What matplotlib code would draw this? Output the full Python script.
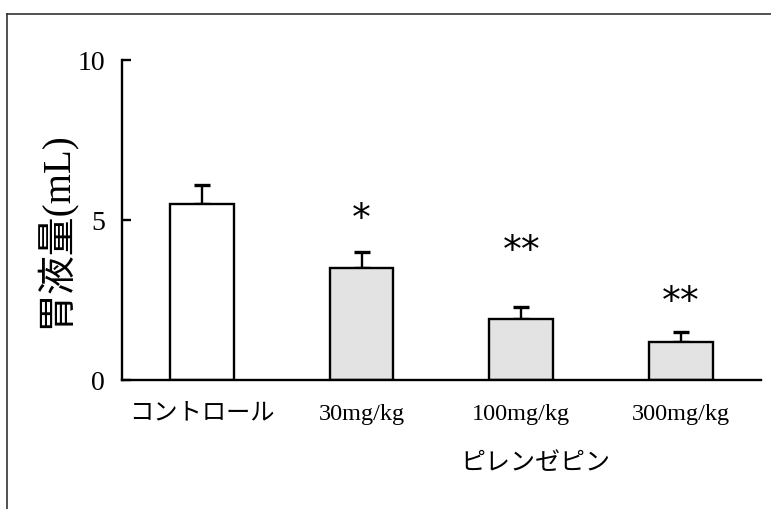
import matplotlib.pyplot as plt
from matplotlib.lines import Line2D

plt.rcParams['font.family'] = ['Liberation Serif', 'Noto Sans CJK JP']

# gastric juice volume per group
groups = ["コントロール", "30mg/kg", "100mg/kg", "300mg/kg"]
volume = [5.5, 3.5, 1.9, 1.2]
sem = [0.6, 0.5, 0.4, 0.3]
fills = ["white", "#e3e3e3", "#e3e3e3", "#e3e3e3"]
marks = ["", "*", "**", "**"]
mark_y = [0, 5.02, 4.02, 2.42]

fig = plt.figure(figsize=(7.71, 5.09), dpi=100)
ax = fig.add_axes([0.158, 0.253, 0.829, 0.629])

x = range(len(groups))
ax.bar(x, volume, width=0.4, color=fills, edgecolor="black", linewidth=1.7, zorder=2)
ax.errorbar(x, volume, yerr=[[0] * len(sem), sem], fmt="none", ecolor="black",
            elinewidth=1.7, capsize=5.8, capthick=2.4, zorder=1)

for i, m in enumerate(marks):
    if m:
        ax.text(i, mark_y[i], m, ha="center", va="center", fontsize=27,
                family="DejaVu Sans", color="black")

ax.set_xlim(-0.5, 3.5)
ax.set_ylim(0, 10)
ax.set_yticks([0, 5, 10])
ax.tick_params(axis="y", direction="in", length=6.5, width=1.7, labelsize=20, pad=12)
ax.set_xticks(list(x))
ax.set_xticklabels(groups, fontsize=17.5)
ax.tick_params(axis="x", length=0, pad=17)

for side in ["top", "right"]:
    ax.spines[side].set_visible(False)
for side in ["left", "bottom"]:
    ax.spines[side].set_linewidth(1.7)

ax.set_ylabel("胃液量(mL)", fontsize=28)
ax.yaxis.set_label_coords(-0.074, 0.47)

ax.annotate("ピレンゼピン", xy=(2.09, -0.262), xycoords=("data", "axes fraction"),
            ha="center", va="center", fontsize=18)

# outer frame
W, H = 771, 509
fig.add_artist(Line2D([7 / W, 7 / W], [0, 1 - 14 / H], color="#333333", lw=1.2))
fig.add_artist(Line2D([7 / W, 1], [1 - 14 / H, 1 - 14 / H], color="#333333", lw=1.2))

fig.savefig("out.png", dpi=100)
